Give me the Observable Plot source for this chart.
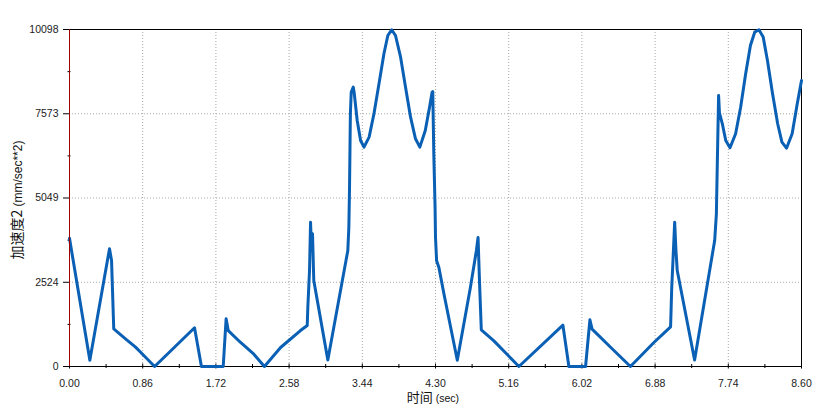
<!DOCTYPE html>
<html>
<head>
<meta charset="utf-8">
<script src="https://cdn.jsdelivr.net/npm/d3@7"></script>
<script src="https://cdn.jsdelivr.net/npm/@observablehq/plot@0.6"></script>
<style>
  html, body { margin: 0; padding: 0; background: #fff; }
</style>
</head>
<body>
<div id="chart"></div>
<script>
const times = [
  0.00, 0.239, 0.47, 0.494, 0.52, 0.658, 0.776, 0.873, 1.00, 1.469, 1.55, 1.806, 1.84, 1.865,
  2.01, 2.166, 2.29, 2.48, 2.71, 2.793, 2.80, 2.82, 2.832, 2.843, 2.855, 2.87, 3.035, 3.27,
  3.282, 3.29, 3.295, 3.30, 3.31, 3.334, 3.345, 3.38, 3.42, 3.46, 3.52, 3.577, 3.636, 3.694,
  3.74, 3.785, 3.83, 3.89, 3.948, 4.007, 4.065, 4.116, 4.18, 4.23, 4.26, 4.268, 4.28, 4.295,
  4.30, 4.313, 4.34, 4.40, 4.556, 4.71, 4.78, 4.80, 4.818, 4.838, 4.986, 5.14, 5.28, 5.797,
  5.867, 6.063, 6.114, 6.14, 6.36, 6.59, 6.866, 7.062, 7.075, 7.09, 7.11, 7.125, 7.14, 7.344,
  7.58, 7.60, 7.61, 7.626, 7.636, 7.67, 7.71, 7.76, 7.826, 7.885, 7.944, 8.00, 8.05, 8.10,
  8.15, 8.20, 8.26, 8.32, 8.37, 8.424, 8.49, 8.55, 8.60
];
const accel = [
  3840, 185, 3530, 3177, 1125, 829, 579, 330, 0, 1160, 0, 0, 1430, 1075,
  720, 369, 0, 569, 1069, 1228, 1777, 2877, 4325, 3476, 3977, 2577, 195, 3476,
  4175, 5373, 6473, 7573, 8220, 8370, 8200, 7372, 6773, 6573, 6873, 7573, 8471, 9370,
  9918, 10090, 9918, 9270, 8370, 7471, 6823, 6573, 7072, 7771, 8220, 8241, 6374, 4774,
  3866, 3167, 2967, 2167, 189, 2367, 3467, 3866, 2467, 1100, 769, 369, 0, 1238,
  0, 0, 1399, 1118, 569, 0, 720, 1189, 2328, 3176, 4325, 3476, 2877, 195,
  3776, 4575, 5973, 8121, 7600, 7273, 6773, 6553, 6973, 7771, 8770, 9619, 10018, 10090,
  9870, 9170, 8171, 7273, 6723, 6542, 6973, 7871, 8571
];
const xTicks = [0.00, 0.86, 1.72, 2.58, 3.44, 4.30, 5.16, 6.02, 6.88, 7.74, 8.60];
const xMinor = [0.43, 1.29, 2.15, 3.01, 3.87, 4.73, 5.59, 6.45, 7.31, 8.17];
const yTicks = [0, 2524, 5049, 7573, 10098];
const yMinor = [1262, 3786, 6311, 8835];
const xLabelMain = "时间";
const xLabelUnit = "(sec)";
const yLabelMain = "加速度2";
const yLabelUnit = "(mm/sec**2)";

const rows = times.map((t, i) => ({t, v: accel[i]}));
const grid = {stroke: "#a8a8a8", strokeOpacity: 1, strokeDasharray: "1,2", strokeWidth: 1};

const chart = Plot.plot({
  width: 819,
  height: 414,
  marginLeft: 69,
  marginRight: 18,
  marginTop: 29,
  marginBottom: 48,
  style: {fontFamily: "'Liberation Sans', Arial, sans-serif", fontSize: "10.5px", color: "#222", background: "#fff"},
  x: {domain: [0, 8.6]},
  y: {domain: [0, 10098]},
  marks: [
    Plot.gridX(xTicks.slice(1, -1), grid),
    Plot.gridY(yTicks.slice(1, -1), grid),
    Plot.ruleY([10098], {stroke: "#000"}),
    Plot.ruleX([8.6], {stroke: "#000"}),
    Plot.ruleY([0], {stroke: "#000"}),
    Plot.axisX(xTicks, {tickSize: 0, tickPadding: 13, tickFormat: d => d.toFixed(2), label: null, fill: "#222"}),
    Plot.axisX(xTicks, {tickSize: 5, dy: -2.5, tickFormat: () => "", label: null, stroke: "#000"}),
    Plot.axisX(xMinor, {tickSize: 4, dy: -2, tickFormat: () => "", label: null, stroke: "#000"}),
    Plot.axisY(yTicks, {tickSize: 6, tickPadding: 5, tickFormat: d => String(d), label: null, stroke: "#000", fill: "#222"}),
    Plot.axisY(yMinor, {tickSize: 3, dx: 1.5, tickFormat: () => "", label: null, stroke: "#000"}),
    Plot.line(rows, {x: "t", y: "v", stroke: "#0a60b4", strokeWidth: 3, strokeLinejoin: "round"}),
    Plot.ruleX([0], {stroke: "#a00000"})
  ]
});

const svg = d3.select(chart);
const xl = svg.append("text")
  .attr("x", 433).attr("y", 402)
  .attr("text-anchor", "middle")
  .attr("fill", "#111");
xl.append("tspan").attr("font-family", "'Noto Sans CJK SC', sans-serif").attr("font-size", "13px").text(xLabelMain + " ");
xl.append("tspan").attr("font-family", "'Liberation Sans', Arial, sans-serif").attr("font-size", "10.5px").text(xLabelUnit);

const yl = svg.append("text")
  .attr("transform", "translate(22,200) rotate(-90)")
  .attr("text-anchor", "middle")
  .attr("fill", "#111");
yl.append("tspan").attr("font-family", "'Noto Sans CJK SC', sans-serif").attr("font-size", "14px").text(yLabelMain + " ");
yl.append("tspan").attr("font-family", "'Liberation Sans', Arial, sans-serif").attr("font-size", "12px").text(yLabelUnit);

document.getElementById("chart").appendChild(chart);
</script>
</body>
</html>
